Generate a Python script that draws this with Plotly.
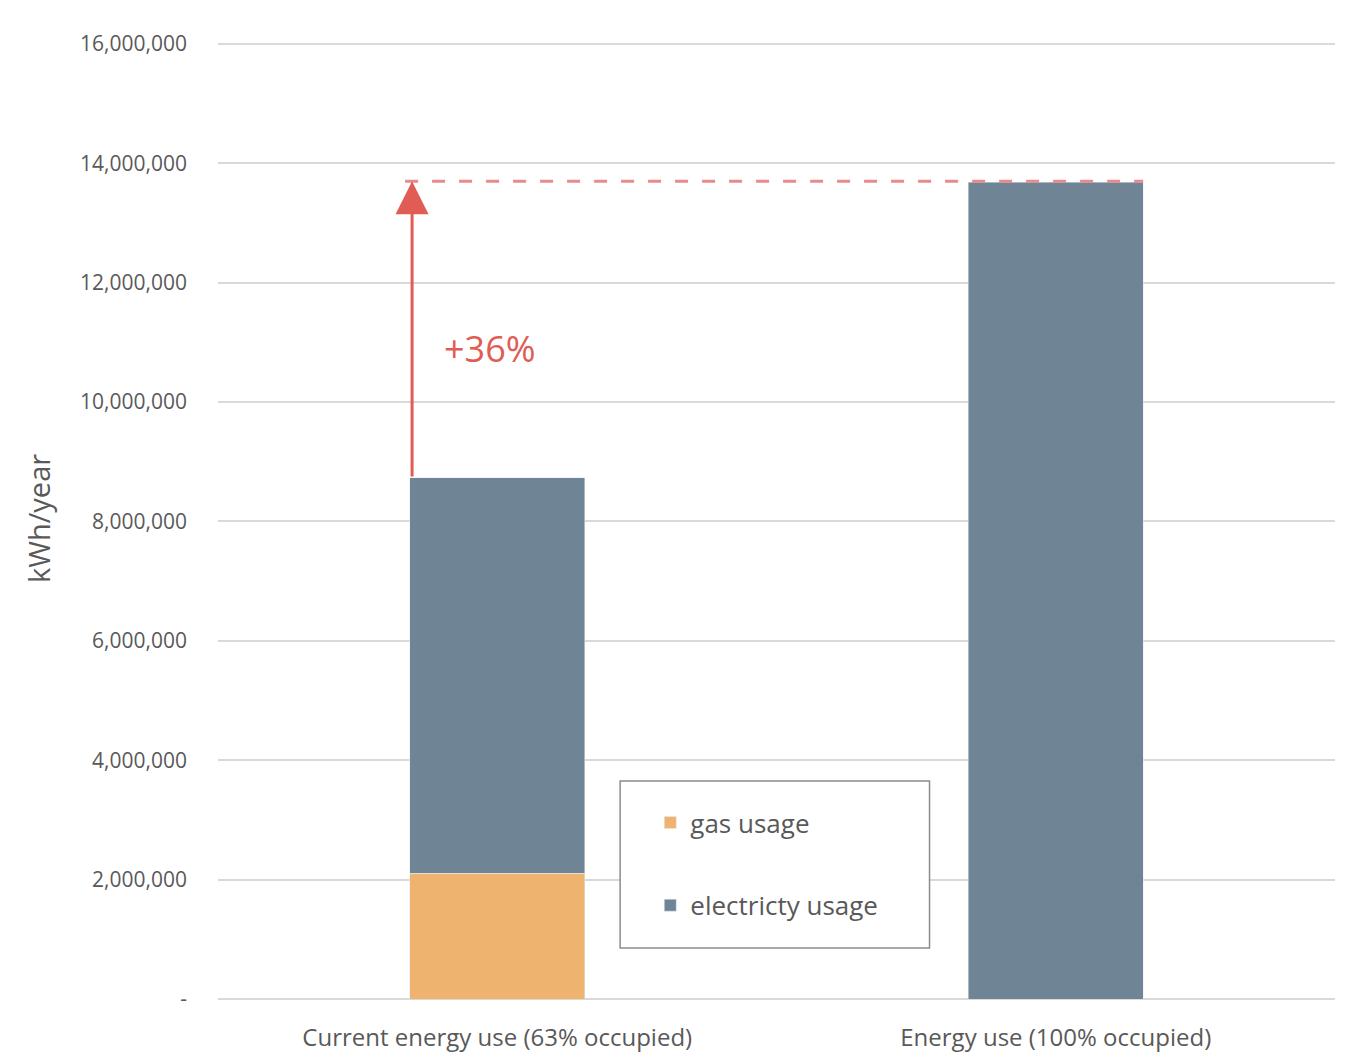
import plotly.graph_objects as go

categories = ["Current energy use (63% occupied)", "Energy use (100% occupied)"]
gas_usage = [2110000, 0]
electricity_usage = [6620000, 13680000]
tick_values = [0, 2000000, 4000000, 6000000, 8000000, 10000000, 12000000, 14000000, 16000000]
tick_labels = ["-", "2,000,000", "4,000,000", "6,000,000", "8,000,000", "10,000,000",
               "12,000,000", "14,000,000", "16,000,000"]
increase_label = "+36%"

GAS = "#EDB36F"
ELEC = "#6F8494"
RED = "#E05C55"
DASH = "#E98A8C"
TXT = "#595959"
FONT = "Open Sans"

totals = [g + e for g, e in zip(gas_usage, electricity_usage)]
bar_w = 0.313

fig = go.Figure()
fig.add_trace(go.Bar(x=categories, y=gas_usage, name="gas usage", marker_color=GAS,
                     width=bar_w, legendgroup="g"))
fig.add_trace(go.Bar(x=categories, y=electricity_usage, name="electricty usage",
                     marker_color=ELEC, width=bar_w, legendgroup="e"))

# dashed reference line at the 100% occupied total
fig.add_shape(type="line", xref="x", yref="y", x0=-0.165, x1=1 + bar_w / 2,
              y0=totals[1] + 20000, y1=totals[1] + 20000,
              line=dict(color=DASH, width=3, dash="13px,14px"), layer="above")

# arrow from current total to full-occupancy total
fig.add_annotation(x=-bar_w / 2 + 0.004, y=totals[1] + 20000, ax=-bar_w / 2 + 0.004, ay=totals[0],
                   xref="x", yref="y", axref="x", ayref="y", text="", showarrow=True,
                   arrowhead=2, arrowwidth=3, arrowsize=2.2, arrowcolor=RED)
fig.add_annotation(x=-0.0125, y=10900000, xref="x", yref="y", text=increase_label,
                   showarrow=False, font=dict(family=FONT, size=36, color=RED))

# legend box (paper coords relative to plot area)
y_top = 16100000
fig.add_shape(type="rect", xref="paper", yref="paper", x0=0.36, x1=0.637,
              y0=(999 - 948) / 961, y1=(999 - 781) / 961,
              line=dict(color="#8C8C8C", width=1.5), fillcolor="white", layer="above")

fig.update_layout(
    barmode="stack",
    width=1356, height=1056,
    margin=dict(l=218, r=21, t=38, b=57, autoexpand=False),
    paper_bgcolor="white", plot_bgcolor="white",
    font=dict(family=FONT, color=TXT),
    showlegend=True,
    legend=dict(x=0.387, y=(999 - 799) / 961, xanchor="left", yanchor="top",
                bgcolor="rgba(0,0,0,0)", borderwidth=0,
                font=dict(family=FONT, size=26, color=TXT),
                tracegroupgap=46, traceorder="grouped"),
    bargap=0.687,
)
fig.update_yaxes(range=[0, y_top], tickvals=tick_values, ticktext=tick_labels,
                 showgrid=True, gridcolor="#D9D9D9", gridwidth=2,
                 zeroline=True, zerolinecolor="#D9D9D9", zerolinewidth=2,
                 showline=False, ticks="", ticklabelstandoff=30, automargin=False,
                 tickfont=dict(family=FONT, size=21, color=TXT),
                 title=dict(text="kWh/year", font=dict(family=FONT, size=29, color=TXT), standoff=20))
fig.update_xaxes(showgrid=False, showline=False, ticks="", ticklabelstandoff=22, automargin=False,
                 tickfont=dict(family=FONT, size=24, color=TXT))

fig.write_html("out.html")
